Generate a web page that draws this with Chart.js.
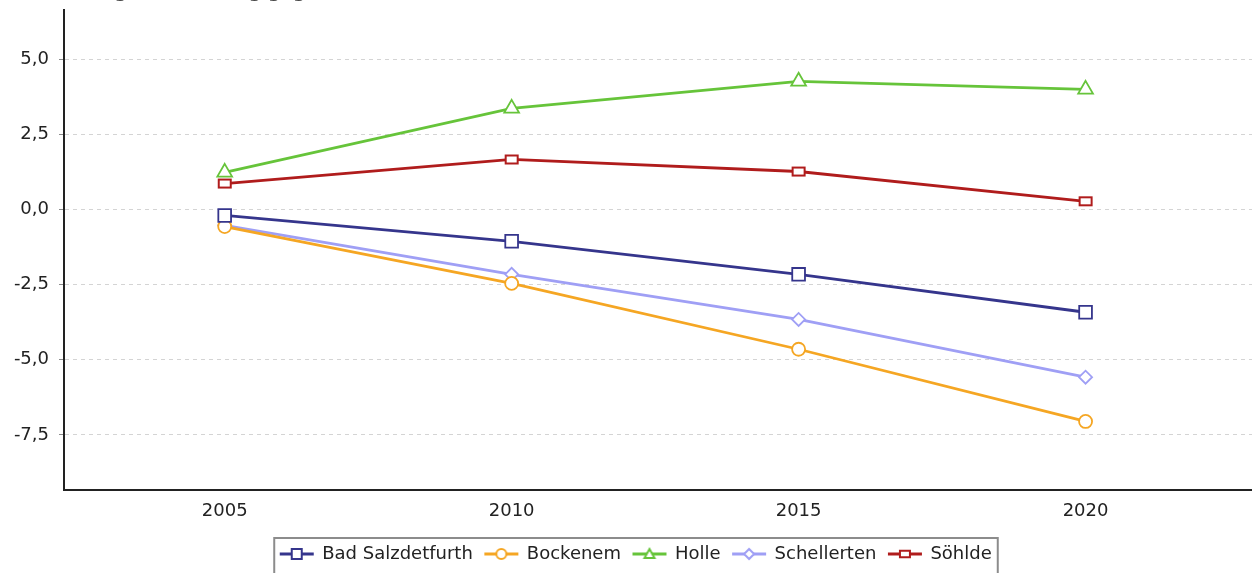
<!DOCTYPE html>
<html>
<head>
<meta charset="utf-8">
<script src="https://cdn.jsdelivr.net/npm/chart.js@4.4.1/dist/chart.umd.min.js"></script>
<style>
  html, body { margin: 0; padding: 0; background: #ffffff; overflow: hidden; }
  body { width: 1252px; height: 573px; position: relative; }
  #wrap { position: absolute; left: 0; top: -18px; width: 1252px; height: 591px; }
</style>
</head>
<body>
<div id="wrap"><canvas id="c" width="1252" height="591"></canvas></div>
<script>
// ---- data ----
const titleText = "Bevölkerungsentwicklung gegenüber 2000 (%)";
const years = [2005, 2010, 2015, 2020];
const seriesNames = ["Bad Salzdetfurth", "Bockenem", "Holle", "Schellerten", "Söhlde"];
const badSalzdetfurth = [-0.2, -1.06, -2.16, -3.42];
const bockenem = [-0.57, -2.46, -4.65, -7.05];
const holle = [1.23, 3.36, 4.26, 3.99];
const schellerten = [-0.53, -2.16, -3.66, -5.58];
const soehlde = [0.86, 1.66, 1.26, 0.27];
const yTicks = [-7.5, -5.0, -2.5, 0.0, 2.5, 5.0];
const xTicks = [2005, 2010, 2015, 2020];

const colors = ["#35358c", "#f5a623", "#66c43a", "#9f9ff5", "#b01c1c"];
const shapes = ["square", "circle", "triangle", "diamond", "flatrect"];
const values = [badSalzdetfurth, bockenem, holle, schellerten, soehlde];

function drawShape(ctx, shape, cx, cy, s, color, lw) {
  ctx.save();
  ctx.fillStyle = "#ffffff";
  ctx.strokeStyle = color;
  ctx.lineWidth = lw;
  ctx.beginPath();
  if (shape === "square") {
    ctx.rect(cx - s / 2, cy - s / 2, s, s);
  } else if (shape === "circle") {
    ctx.arc(cx, cy, s / 2, 0, Math.PI * 2);
  } else if (shape === "triangle") {
    ctx.moveTo(cx, cy - s / 2);
    ctx.lineTo(cx + s / 2, cy + s / 2 - 1);
    ctx.lineTo(cx - s / 2, cy + s / 2 - 1);
    ctx.closePath();
  } else if (shape === "diamond") {
    ctx.moveTo(cx, cy - s / 2);
    ctx.lineTo(cx + s / 2, cy);
    ctx.lineTo(cx, cy + s / 2);
    ctx.lineTo(cx - s / 2, cy);
    ctx.closePath();
  } else if (shape === "flatrect") {
    ctx.rect(cx - s / 2, cy - s * 0.33, s, s * 0.66);
  }
  ctx.fill();
  ctx.stroke();
  ctx.restore();
}

function legendImage(i) {
  const c = document.createElement("canvas");
  c.width = 36; c.height = 16;
  const ctx = c.getContext("2d");
  ctx.strokeStyle = colors[i];
  ctx.lineWidth = 3;
  ctx.beginPath();
  ctx.moveTo(1, 8); ctx.lineTo(35, 8);
  ctx.stroke();
  drawShape(ctx, shapes[i], 18, 8, 10, colors[i], 2);
  return c;
}

function pointImage(i) {
  const c = document.createElement("canvas");
  c.width = 16; c.height = 12;
  const ctx = c.getContext("2d");
  drawShape(ctx, shapes[i], 8, 6, 12, colors[i], 2);
  return c;
}

const builtinStyle = { square: "rect", circle: "circle", triangle: "triangle", diamond: "rectRot" };
const builtinRadius = { square: 9, circle: 6.5, triangle: 8.5, diamond: 6.5 };

const datasets = seriesNames.map((name, i) => ({
  label: name,
  data: years.map((y, k) => ({ x: y, y: values[i][k] })),
  borderColor: colors[i],
  backgroundColor: "#ffffff",
  borderWidth: 2.8,
  tension: 0,
  pointStyle: builtinStyle[shapes[i]] || pointImage(i),
  pointRadius: builtinRadius[shapes[i]] || 6,
  pointBorderWidth: 1.8,
  pointBorderColor: colors[i],
  pointBackgroundColor: "#ffffff",
  pointHoverRadius: builtinRadius[shapes[i]] || 6
}));

const LEGEND_SHIFT = 10;
const legendFrame = {
  id: "legendFrame",
  afterLayout(chart) {
    const lg = chart.legend;
    if (lg) { lg.left += LEGEND_SHIFT; lg.right += LEGEND_SHIFT; }
  },
  afterDraw(chart) {
    const lg = chart.legend;
    if (!lg || !lg.legendHitBoxes || !lg.legendHitBoxes.length) return;
    const hb = lg.legendHitBoxes;
    let l = Infinity, r = -Infinity, t = Infinity;
    hb.forEach(b => { l = Math.min(l, b.left); r = Math.max(r, b.left + b.width); t = Math.min(t, b.top); });
    const ctx = chart.ctx;
    ctx.save();
    ctx.strokeStyle = "#8c8c8c";
    ctx.lineWidth = 2;
    ctx.strokeRect(l - 6, t - 7, (r - l) + 12, 60);
    ctx.restore();
  }
};

const font = { family: "'DejaVu Sans', sans-serif", size: 18 };

new Chart(document.getElementById("c"), {
  type: "line",
  data: { datasets },
  plugins: [legendFrame],
  options: {
    responsive: false,
    animation: false,
    events: [],
    layout: { autoPadding: false, padding: { left: 0, right: 0, top: 0, bottom: 0 } },
    scales: {
      x: {
        type: "linear",
        min: 2002.2,
        max: 2022.9,
        afterBuildTicks(scale) { scale.ticks = xTicks.map(v => ({ value: v })); },
        afterFit(scale) { scale.height = 43; },
        grid: { display: false },
        border: { display: true, color: "#222222", width: 2 },
        ticks: { font, color: "#222222", padding: 3, autoSkip: false, maxRotation: 0,
          callback: v => String(v) }
      },
      y: {
        min: -9.33,
        max: 6.63,
        afterBuildTicks(scale) { scale.ticks = yTicks.map(v => ({ value: v })); },
        afterFit(scale) { scale.width = 64; },
        grid: { color: "#d4d4d4", lineWidth: 1, tickLength: 5, tickColor: "#8a8a8a", tickBorderDash: [] },
        border: { display: true, color: "#222222", width: 2, dash: [4, 4] },
        ticks: { font, color: "#222222", padding: 10,
          callback: v => Number(v).toFixed(1).replace(".", ",") }
      }
    },
    plugins: {
      title: {
        display: true,
        text: titleText,
        align: "start",
        color: "#444444",
        font: { family: "'DejaVu Sans', sans-serif", size: 18 },
        padding: { top: 0, bottom: 6.4 }
      },
      legend: {
        position: "bottom",
        labels: {
          font,
          color: "#222222",
          usePointStyle: true,
          pointStyleWidth: 33,
          padding: 12,
          generateLabels(chart) {
            return chart.data.datasets.map((ds, i) => ({
              text: ds.label,
              pointStyle: legendImage(i),
              fillStyle: ds.borderColor,
              strokeStyle: ds.borderColor,
              fontColor: "#222222",
              lineWidth: 0,
              hidden: false,
              datasetIndex: i
            }));
          }
        }
      },
      tooltip: { enabled: false }
    }
  }
});
</script>
</body>
</html>
